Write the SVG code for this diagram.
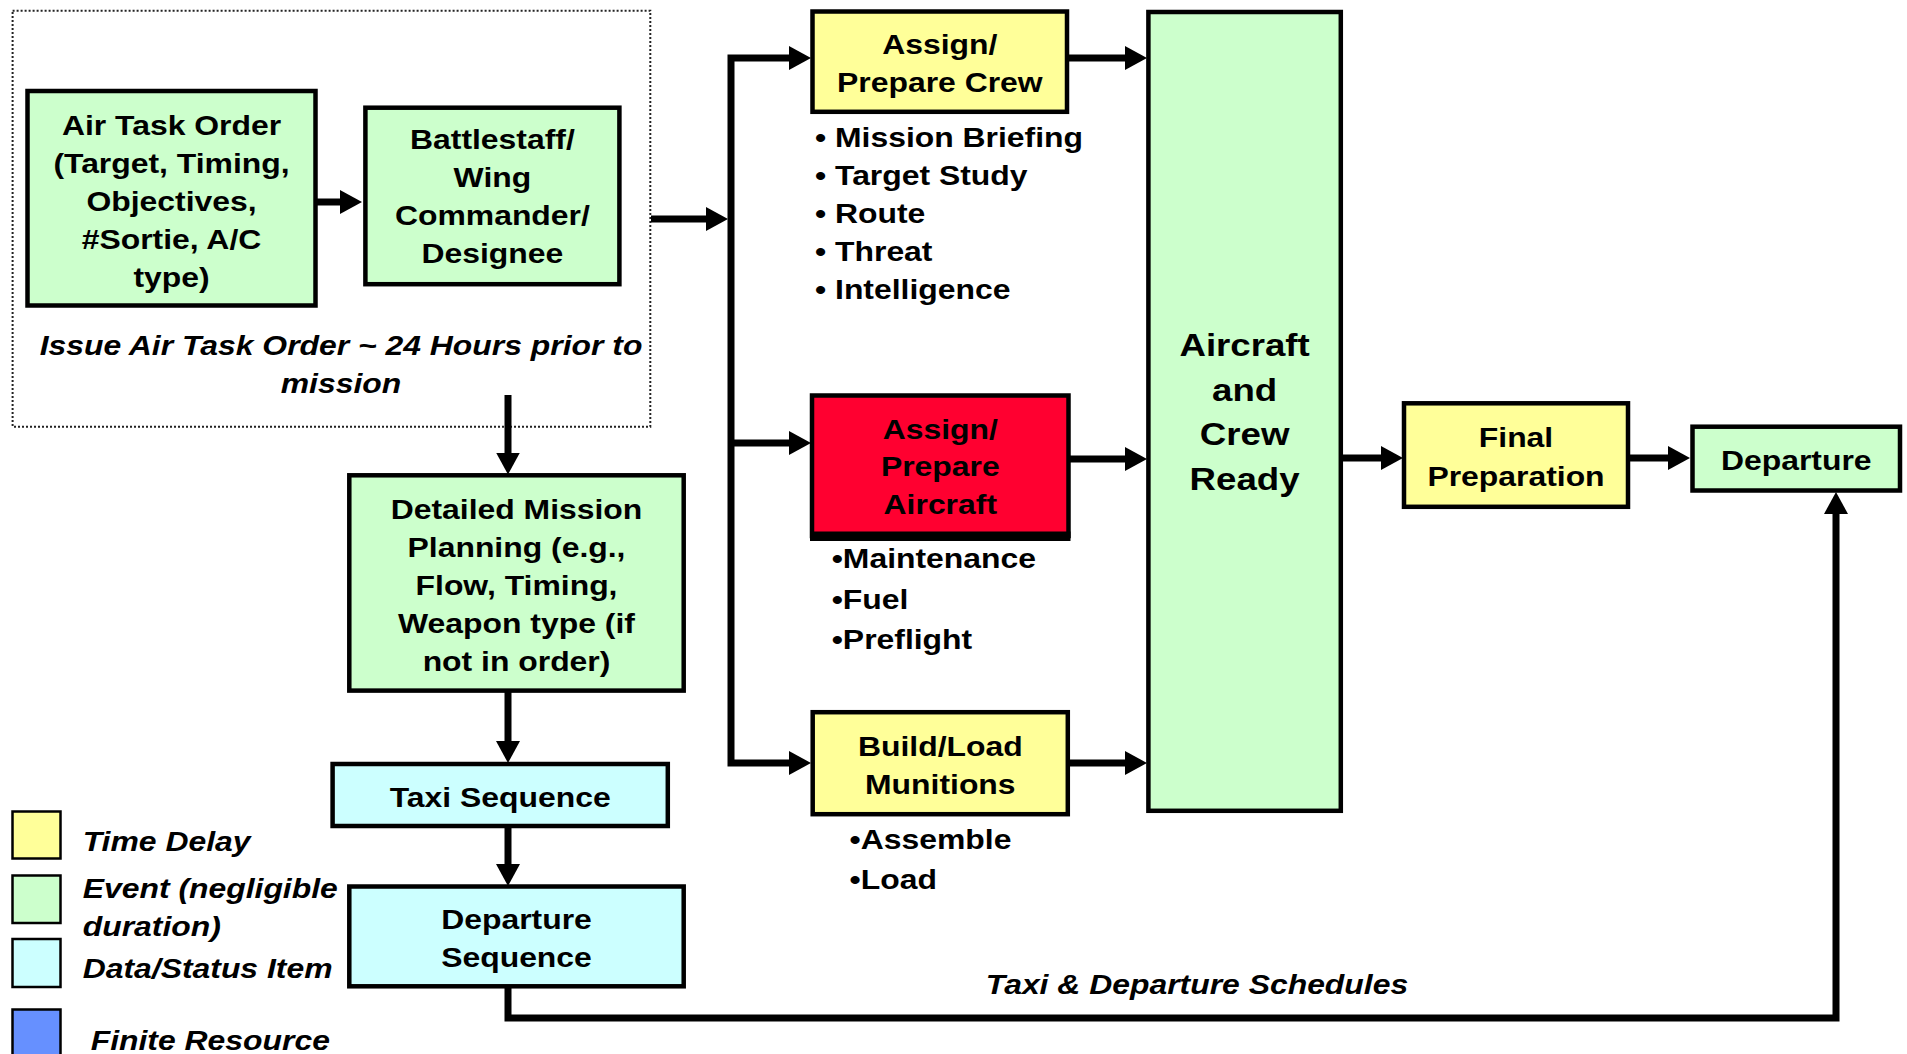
<svg xmlns="http://www.w3.org/2000/svg" width="1907" height="1054" viewBox="0 0 1907 1054">
<defs>
<marker id="ah" markerUnits="userSpaceOnUse" markerWidth="22" markerHeight="24" refX="14" refY="12" orient="auto"><path d="M0,0 L22,12 L0,24 Z" fill="#000"/></marker>
<marker id="ahs" markerUnits="userSpaceOnUse" markerWidth="22" markerHeight="24" refX="14" refY="12" orient="auto-start-reverse"><path d="M0,0 L22,12 L0,24 Z" fill="#000"/></marker>
<style>
.box{stroke:#000;stroke-width:4.5}
.y{fill:#FFFF99}
.g{fill:#CCFFCC}
.c{fill:#CCFFFF}
.r{fill:#FF0030}
.b{fill:#6690FF}
text{font-family:"Liberation Sans",Arial,sans-serif;font-weight:bold;font-size:27.5px;fill:#000}
.m{text-anchor:middle}
.i{font-style:italic}
.big{font-size:31.6px}
.conn{fill:none;stroke:#000;stroke-width:7;stroke-linejoin:miter}
.leg{stroke:#000;stroke-width:2.5}
</style>
</defs>
<rect x="0" y="0" width="1907" height="1054" fill="#fff"/>

<g id="ato-frame">
<rect x="12.6" y="10.7" width="637.7" height="416" fill="none" stroke="#222" stroke-width="2" stroke-dasharray="2 2"/>
<g transform="translate(341 0) scale(1.16 1)">
<text class="m i" x="0" y="355">Issue Air Task Order ~ 24 Hours prior to</text>
<text class="m i" x="0" y="393">mission</text>
</g>
</g>

<g id="air-task-order">
<rect class="box g" x="27.5" y="91" width="288" height="214.5"/>
<g transform="translate(171.5 0) scale(1.16 1)">
<text class="m" x="0" y="135">Air Task Order</text>
<text class="m" x="0" y="173">(Target, Timing,</text>
<text class="m" x="0" y="211">Objectives,</text>
<text class="m" x="0" y="249">#Sortie, A/C</text>
<text class="m" x="0" y="287">type)</text>
</g>
</g>

<g id="battlestaff">
<rect class="box g" x="365.4" y="107.7" width="254" height="176.5"/>
<g transform="translate(492.4 0) scale(1.16 1)">
<text class="m" x="0" y="149.5">Battlestaff/</text>
<text class="m" x="0" y="187.5">Wing</text>
<text class="m" x="0" y="225.5">Commander/</text>
<text class="m" x="0" y="263.5">Designee</text>
</g>
</g>

<g id="detailed-mission-planning">
<rect class="box g" x="349.3" y="475.3" width="334.4" height="215.3"/>
<g transform="translate(516.5 0) scale(1.16 1)">
<text class="m" x="0" y="519">Detailed Mission</text>
<text class="m" x="0" y="557">Planning (e.g.,</text>
<text class="m" x="0" y="595">Flow, Timing,</text>
<text class="m" x="0" y="633">Weapon type (if</text>
<text class="m" x="0" y="671">not in order)</text>
</g>
</g>

<g id="taxi-sequence">
<rect class="box c" x="332.6" y="764" width="335.2" height="62"/>
<g transform="translate(500.2 0) scale(1.16 1)">
<text class="m" x="0" y="807.5">Taxi Sequence</text>
</g>
</g>

<g id="departure-sequence">
<rect class="box c" x="349.3" y="886.5" width="334.4" height="99.8"/>
<g transform="translate(516.5 0) scale(1.16 1)">
<text class="m" x="0" y="929">Departure</text>
<text class="m" x="0" y="967">Sequence</text>
</g>
</g>

<g id="assign-prepare-crew">
<rect class="box y" x="812.5" y="11.5" width="254.5" height="100.3"/>
<g transform="translate(939.8 0) scale(1.16 1)">
<text class="m" x="0" y="54">Assign/</text>
<text class="m" x="0" y="92">Prepare Crew</text>
</g>
<g transform="translate(815 0) scale(1.16 1)">
<text x="0" y="147">• Mission Briefing</text>
<text x="0" y="185">• Target Study</text>
<text x="0" y="223">• Route</text>
<text x="0" y="261">• Threat</text>
<text x="0" y="299">• Intelligence</text>
</g>
</g>

<g id="assign-prepare-aircraft">
<rect class="box r" x="812" y="395.5" width="256.5" height="140.5"/>
<rect x="810" y="531.5" width="260.5" height="9.5" fill="#000"/>
<g transform="translate(940.3 0) scale(1.16 1)">
<text class="m" x="0" y="439">Assign/</text>
<text class="m" x="0" y="476.5">Prepare</text>
<text class="m" x="0" y="514">Aircraft</text>
</g>
<g transform="translate(831.7 0) scale(1.16 1)">
<text x="0" y="568.5">•Maintenance</text>
<text x="0" y="609">•Fuel</text>
<text x="0" y="649">•Preflight</text>
</g>
</g>

<g id="build-load-munitions">
<rect class="box y" x="812.7" y="712.2" width="255.1" height="102"/>
<g transform="translate(940.3 0) scale(1.16 1)">
<text class="m" x="0" y="756">Build/Load</text>
<text class="m" x="0" y="794">Munitions</text>
</g>
<g transform="translate(849.6 0) scale(1.16 1)">
<text x="0" y="849">•Assemble</text>
<text x="0" y="889">•Load</text>
</g>
</g>

<g id="aircraft-crew-ready">
<rect class="box g" x="1148.4" y="12" width="192.4" height="798.8"/>
<g transform="translate(1244.6 0) scale(1.16 1)">
<text class="m big" x="0" y="356.5">Aircraft</text>
<text class="m big" x="0" y="401">and</text>
<text class="m big" x="0" y="445.5">Crew</text>
<text class="m big" x="0" y="490">Ready</text>
</g>
</g>

<g id="final-preparation">
<rect class="box y" x="1404" y="403.3" width="224" height="103.5"/>
<g transform="translate(1516 0) scale(1.16 1)">
<text class="m" x="0" y="447">Final</text>
<text class="m" x="0" y="486">Preparation</text>
</g>
</g>

<g id="departure">
<rect class="box g" x="1692.5" y="426.7" width="207.5" height="63.8"/>
<g transform="translate(1796.3 0) scale(1.16 1)">
<text class="m" x="0" y="470">Departure</text>
</g>
</g>

<g id="connectors">
<path class="conn" d="M316,202 H354" marker-end="url(#ah)"/>
<path class="conn" d="M651,219 H720" marker-end="url(#ah)"/>
<path class="conn" d="M803,58 H731 V763 H803" marker-start="url(#ahs)" marker-end="url(#ah)"/>
<path class="conn" d="M731,443 H803" marker-end="url(#ah)"/>
<path class="conn" d="M1068,58 H1139" marker-end="url(#ah)"/>
<path class="conn" d="M1068,459 H1139" marker-end="url(#ah)"/>
<path class="conn" d="M1068,763 H1139" marker-end="url(#ah)"/>
<path class="conn" d="M1341,458 H1395" marker-end="url(#ah)"/>
<path class="conn" d="M1628,458 H1682" marker-end="url(#ah)"/>
<path class="conn" d="M508,395 V466.5" marker-end="url(#ah)"/>
<path class="conn" d="M508,691 V755" marker-end="url(#ah)"/>
<path class="conn" d="M508,826 V878" marker-end="url(#ah)"/>
<path class="conn" d="M508,987 V1018 H1836 V500" marker-end="url(#ah)"/>
<g transform="translate(1197 0) scale(1.16 1)">
<text class="m i" x="0" y="994">Taxi &amp; Departure Schedules</text>
</g>
</g>

<g id="legend">
<rect class="leg y" x="12.5" y="811.5" width="48" height="47"/>
<rect class="leg g" x="12.5" y="875.5" width="48" height="47.5"/>
<rect class="leg c" x="12.5" y="939" width="48" height="48"/>
<rect class="leg b" x="12.5" y="1009.5" width="48" height="50"/>
<g transform="translate(82.7 0) scale(1.16 1)">
<text class="i" x="0" y="851.5">Time Delay</text>
<text class="i" x="0" y="898.5">Event (negligible</text>
<text class="i" x="0" y="936.5">duration)</text>
<text class="i" x="0" y="978.5">Data/Status Item</text>
</g>
<g transform="translate(90.7 0) scale(1.16 1)">
<text class="i" x="0" y="1050">Finite Resource</text>
</g>
</g>
</svg>
